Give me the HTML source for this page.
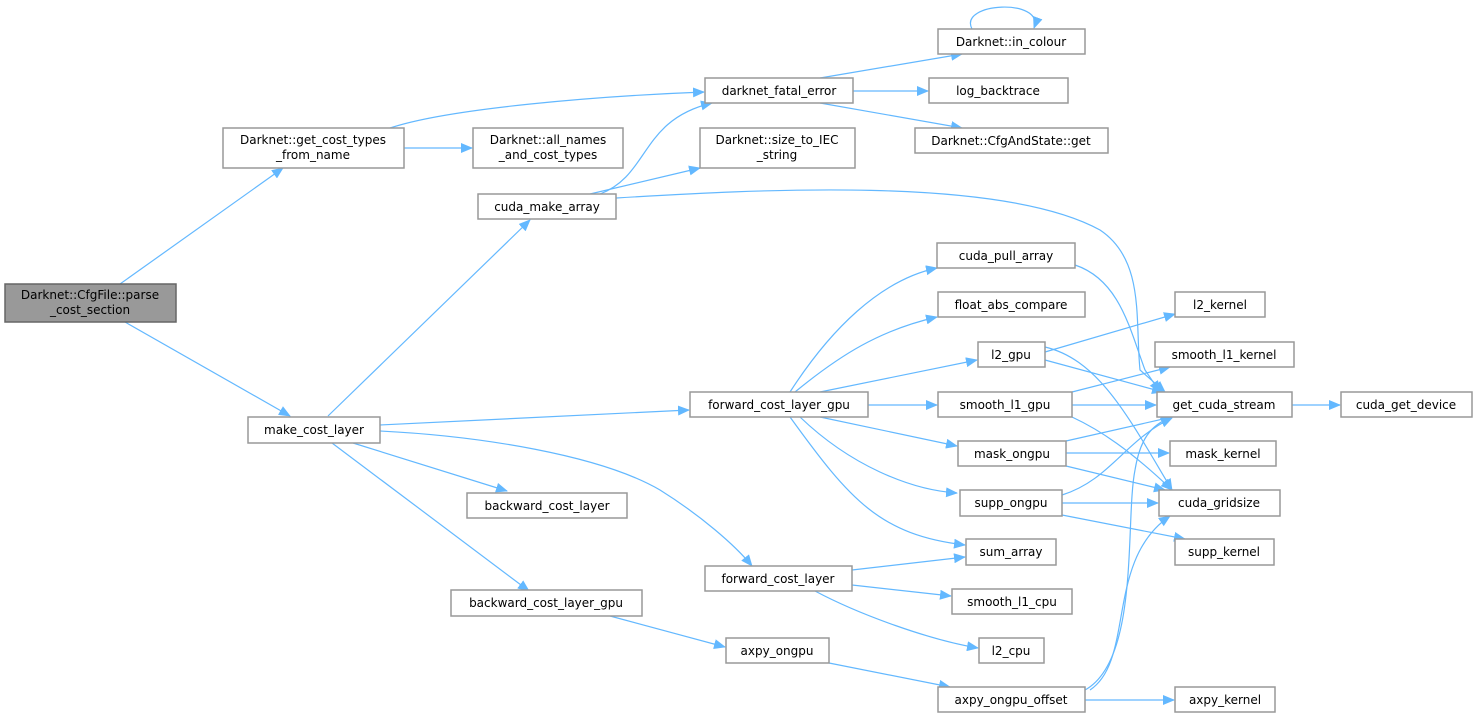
<!DOCTYPE html>
<html><head><meta charset="utf-8"><style>
html,body{margin:0;padding:0;background:#fff;width:1477px;height:719px;overflow:hidden}
svg{display:block}
text{font-family:"DejaVu Sans","Liberation Sans",sans-serif;font-size:12px;fill:#000}
.n{fill:#fff;stroke:#999;stroke-width:1.5}
.e{fill:none;stroke:#63b8ff;stroke-width:1.2}
</style></head><body>
<svg width="1477" height="719" viewBox="0 0 1477 719">
<defs><marker id="a" markerWidth="12" markerHeight="10" refX="11" refY="5" orient="auto" markerUnits="userSpaceOnUse"><path d="M0,0 L12,5 L0,10 z" fill="#63b8ff"/></marker></defs>
<g class="e" marker-end="url(#a)">
<path d="M120,284 L283,168"/>
<path d="M125,322 L290,416"/>
<path d="M404,148 L472,148"/>
<path d="M390,128 C450,108 600,96 704,92"/>
<path d="M600,194 C650,175 640,120 712,103"/>
<path d="M590,194 L700,168"/>
<path d="M616,198 C750,190 1000,175 1100,230 C1145,260 1135,320 1140,370 L1165,392"/>
<path d="M328,416 L530,220"/>
<path d="M380,425 L689,410"/>
<path d="M380,431 C480,436 600,455 660,490 C700,515 735,545 752,566"/>
<path d="M353,443 L507,491"/>
<path d="M332,443 L529,591"/>
<path d="M820,78 L962,54"/>
<path d="M853,91 L928,91"/>
<path d="M820,103 L962,128"/>
<path d="M972,29 C958,2 1045,-2 1034,28"/>
<path d="M790,392 C830,330 880,280 937,268"/>
<path d="M795,392 C840,355 880,330 937,317"/>
<path d="M820,392 L977,360"/>
<path d="M868,405 L937,405"/>
<path d="M820,417 L957,446"/>
<path d="M800,417 C850,465 910,490 957,493"/>
<path d="M790,417 C850,500 880,535 965,545"/>
<path d="M852,570 L965,557"/>
<path d="M852,585 L951,596"/>
<path d="M815,591 C860,615 930,640 978,648"/>
<path d="M610,616 L725,647"/>
<path d="M829,663 L950,687"/>
<path d="M1085,700 L1174,700"/>
<path d="M1085,690 C1140,660 1125,520 1135,470 C1140,440 1150,425 1172,417"/>
<path d="M1090,690 C1135,660 1105,560 1170,516"/>
<path d="M1075,265 C1120,280 1130,330 1145,370 L1160,392"/>
<path d="M1045,352 L1175,314"/>
<path d="M1045,360 L1163,392"/>
<path d="M1045,347 C1100,360 1130,420 1172,490"/>
<path d="M1072,392 L1170,367"/>
<path d="M1072,405 L1156,405"/>
<path d="M1072,417 C1100,430 1130,450 1172,490"/>
<path d="M1066,441 L1172,417"/>
<path d="M1066,453 L1169,453"/>
<path d="M1066,466 L1165,490"/>
<path d="M1062,495 C1110,480 1125,440 1172,418"/>
<path d="M1062,503 L1158,503"/>
<path d="M1062,515 L1185,539"/>
<path d="M1292,405 L1340,405"/>
</g>
<rect x="5" y="284" width="171" height="38" fill="#999" stroke="#666" stroke-width="1.5"/>
<text x="90" y="299" text-anchor="middle">Darknet::CfgFile::parse</text><text x="90" y="314" text-anchor="middle">_cost_section</text>
<g>
<rect class="n" x="223" y="128" width="181" height="40"/><text x="313" y="144" text-anchor="middle">Darknet::get_cost_types</text><text x="313" y="159" text-anchor="middle">_from_name</text>
<rect class="n" x="473" y="128" width="150" height="40"/><text x="548" y="144" text-anchor="middle">Darknet::all_names</text><text x="548" y="159" text-anchor="middle">_and_cost_types</text>
<rect class="n" x="700" y="128" width="155" height="40"/><text x="777" y="144" text-anchor="middle">Darknet::size_to_IEC</text><text x="777" y="159" text-anchor="middle">_string</text>
</g>
<g text-anchor="middle">
<rect class="n" x="478" y="194" width="138" height="25"/><text x="547" y="211">cuda_make_array</text>
<rect class="n" x="705" y="78" width="148" height="25"/><text x="779" y="95">darknet_fatal_error</text>
<rect class="n" x="938" y="29" width="147" height="25"/><text x="1011" y="46">Darknet::in_colour</text>
<rect class="n" x="929" y="78" width="139" height="25"/><text x="998" y="95">log_backtrace</text>
<rect class="n" x="915" y="128" width="193" height="25"/><text x="1011" y="145">Darknet::CfgAndState::get</text>
<rect class="n" x="937" y="243" width="138" height="25"/><text x="1006" y="260">cuda_pull_array</text>
<rect class="n" x="938" y="292" width="147" height="25"/><text x="1011" y="309">float_abs_compare</text>
<rect class="n" x="1175" y="292" width="90" height="25"/><text x="1220" y="309">l2_kernel</text>
<rect class="n" x="978" y="342" width="67" height="25"/><text x="1011" y="359">l2_gpu</text>
<rect class="n" x="1155" y="342" width="139" height="25"/><text x="1224" y="359">smooth_l1_kernel</text>
<rect class="n" x="690" y="392" width="178" height="25"/><text x="779" y="409">forward_cost_layer_gpu</text>
<rect class="n" x="938" y="392" width="134" height="25"/><text x="1005" y="409">smooth_l1_gpu</text>
<rect class="n" x="1157" y="392" width="135" height="25"/><text x="1224" y="409">get_cuda_stream</text>
<rect class="n" x="1341" y="392" width="131" height="25"/><text x="1406" y="409">cuda_get_device</text>
<rect class="n" x="248" y="417" width="132" height="26"/><text x="314" y="434">make_cost_layer</text>
<rect class="n" x="958" y="441" width="108" height="25"/><text x="1012" y="458">mask_ongpu</text>
<rect class="n" x="1170" y="441" width="106" height="25"/><text x="1223" y="458">mask_kernel</text>
<rect class="n" x="467" y="493" width="160" height="25"/><text x="547" y="510">backward_cost_layer</text>
<rect class="n" x="960" y="490" width="102" height="26"/><text x="1011" y="507">supp_ongpu</text>
<rect class="n" x="1159" y="490" width="121" height="26"/><text x="1219" y="507">cuda_gridsize</text>
<rect class="n" x="966" y="539" width="90" height="26"/><text x="1011" y="556">sum_array</text>
<rect class="n" x="1175" y="539" width="99" height="26"/><text x="1224" y="556">supp_kernel</text>
<rect class="n" x="705" y="566" width="147" height="25"/><text x="778" y="583">forward_cost_layer</text>
<rect class="n" x="451" y="590" width="191" height="26"/><text x="546" y="607">backward_cost_layer_gpu</text>
<rect class="n" x="952" y="589" width="120" height="25"/><text x="1012" y="606">smooth_l1_cpu</text>
<rect class="n" x="979" y="638" width="65" height="25"/><text x="1011" y="655">l2_cpu</text>
<rect class="n" x="726" y="638" width="103" height="25"/><text x="777" y="655">axpy_ongpu</text>
<rect class="n" x="938" y="687" width="147" height="25"/><text x="1011" y="704">axpy_ongpu_offset</text>
<rect class="n" x="1175" y="687" width="100" height="25"/><text x="1225" y="704">axpy_kernel</text>
</g>
</svg>
</body></html>
